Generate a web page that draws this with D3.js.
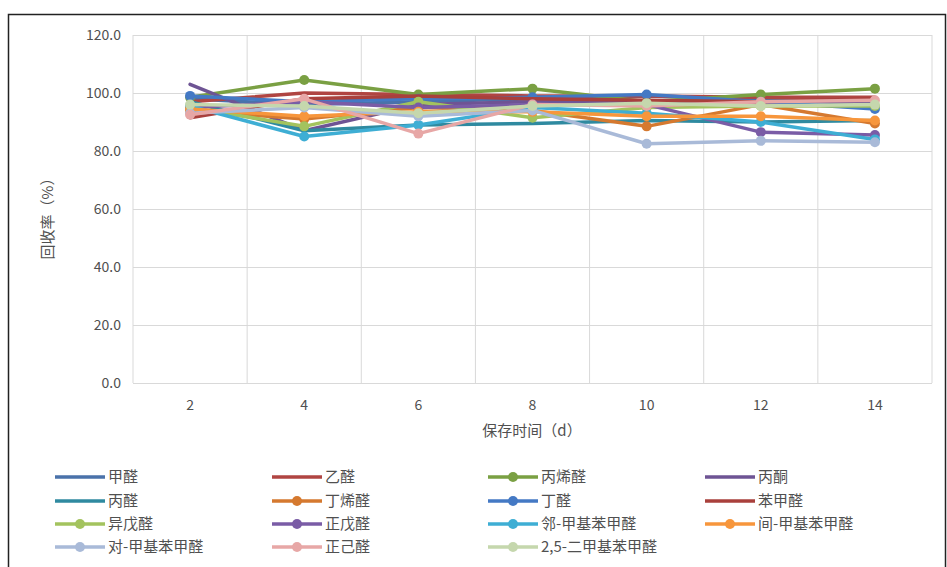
<!DOCTYPE html>
<html>
<head>
<meta charset="utf-8">
<script src="https://cdn.jsdelivr.net/npm/d3@7"></script>
<style>
  body { margin: 0; background: #fff; }
  .text { font-family: "Noto Sans CJK SC", "Noto Sans", sans-serif; fill: #505050; }
</style>
</head>
<body>
<div class="chart"></div>
<script>
// storage days
var days = [2, 4, 6, 8, 10, 12, 14];
var yTicks = [0, 20, 40, 60, 80, 100, 120];

var names = ['甲醛', '乙醛', '丙烯醛', '丙酮', '丙醛', '丁烯醛', '丁醛', '苯甲醛',
    '异戊醛', '正戊醛', '邻-甲基苯甲醛', '间-甲基苯甲醛', '对-甲基苯甲醛', '正己醛', '2,5-二甲基苯甲醛'];
var colors = ['#4a72aa', '#b04542', '#7aa043', '#6e5494', '#2f8aa0', '#d5792f', '#4479c4', '#a9403c',
    '#a3c35e', '#7a5ca6', '#3eaed4', '#f7963c', '#a9bad8', '#e7a7a6', '#c5d7ad'];
var markers = [false, false, true, false, false, true, true, false,
    true, true, true, true, true, true, true];

// recovery (%)
var v_jiaquan = [98, 96, 97, 98, 99, 98, 96];
var v_yiquan = [97, 100, 99.5, 99, 99, 98.5, 98.5];
var v_bingxiquan = [98.5, 104.5, 99.5, 101.5, 97, 99.5, 101.5];
var v_bingtong = [103, 87, 96, 97, 97, 97, 97];
var v_bingquan = [97, 87, 89, 89.5, 90.5, 90, 90.5];
var v_dingxiquan = [94, 91, 95, 94, 88.5, 96, 89.5];
var v_dingquan = [99, 97, 98, 98.5, 99.5, 97, 94.5];
var v_benjiaquan = [91.5, 98, 99, 98, 97.5, 97, 98];
var v_yiwuquan = [95, 88.5, 97, 91.5, 95, 95.5, 95.5];
var v_zhengwuquan = [95, 97, 95, 96, 96, 86.5, 85.5];
var v_lin = [95.5, 85, 89, 95, 93, 90, 84];
var v_jian = [94.5, 92, 93.5, 93.5, 92, 92, 90.5];
var v_dui = [93, 95, 92, 94, 82.5, 83.5, 83];
var v_zhengjiquan = [92.5, 98, 86, 96, 95.5, 97, 97.5];
var v_erjia = [96, 95.5, 93, 95.5, 96.5, 95.5, 96];

var values = [v_jiaquan, v_yiquan, v_bingxiquan, v_bingtong, v_bingquan, v_dingxiquan, v_dingquan,
    v_benjiaquan, v_yiwuquan, v_zhengwuquan, v_lin, v_jian, v_dui, v_zhengjiquan, v_erjia];

var width = 947, height = 567;
var plotL = 133, plotR = 932, plotT = 35, plotB = 383;

var svg = d3.select(".chart")
    .append("svg")
    .attr("width", width)
    .attr("height", height);

// frame
svg.append("rect")
    .attr("x", 8.5).attr("y", 14.5)
    .attr("width", 937).attr("height", 570)
    .attr("fill", "none")
    .attr("stroke", "#222")
    .attr("stroke-width", 1.5);

var x = d3.scaleBand()
    .domain(days)
    .range([plotL, plotR]);

var y = d3.scaleLinear()
    .domain([0, 120])
    .range([plotB, plotT]);

// horizontal gridlines
svg.append("g")
    .attr("transform", "translate(" + plotL + ",0)")
    .call(d3.axisLeft(y).tickValues(yTicks).tickSize(-(plotR - plotL)).tickFormat(""))
    .call(g => g.select(".domain").remove())
    .selectAll("line").attr("stroke", "#d9d9d9");

// vertical gridlines at category boundaries
var edges = days.map(d => x(d)).concat([x.range()[1]]);
svg.append("g")
    .selectAll("line")
    .data(edges)
    .enter()
    .append("line")
    .attr("x1", d => d).attr("x2", d => d)
    .attr("y1", plotT).attr("y2", plotB)
    .attr("stroke", "#d9d9d9");

// y tick labels
svg.append("g")
    .selectAll("text")
    .data(yTicks)
    .enter()
    .append("text")
    .attr("class", "text")
    .attr("x", 121)
    .attr("y", d => y(d) + 5)
    .attr("text-anchor", "end")
    .style("font-size", "14px")
    .text(d => d.toFixed(1));

// x tick labels
svg.append("g")
    .selectAll("text")
    .data(days)
    .enter()
    .append("text")
    .attr("class", "text")
    .attr("x", d => x(d) + x.bandwidth() / 2)
    .attr("y", 410)
    .attr("text-anchor", "middle")
    .style("font-size", "14px")
    .text(d => d);

// axis titles
svg.append("text")
    .attr("class", "text")
    .attr("x", 532).attr("y", 436)
    .attr("text-anchor", "middle")
    .style("font-size", "15px")
    .text("保存时间（d）");

svg.append("text")
    .attr("class", "text")
    .attr("transform", "translate(53,215) rotate(-90)")
    .attr("text-anchor", "middle")
    .style("font-size", "15px")
    .text("回收率（%）");

// lines
var line = d3.line()
    .x((d, i) => x(days[i]) + x.bandwidth() / 2)
    .y(d => y(d));

names.forEach(function(name, k) {
    svg.append("path")
        .datum(values[k])
        .attr("d", line)
        .attr("fill", "none")
        .attr("stroke", colors[k])
        .attr("stroke-width", 3.5)
        .attr("stroke-linejoin", "round")
        .attr("stroke-linecap", "round");
    if (markers[k]) {
        svg.append("g")
            .selectAll("circle")
            .data(values[k])
            .enter()
            .append("circle")
            .attr("cx", (d, i) => x(days[i]) + x.bandwidth() / 2)
            .attr("cy", d => y(d))
            .attr("r", 5)
            .attr("fill", colors[k]);
    }
});

// legend, 4 columns
var colX = [55, 272, 488, 705];
var rowY = [477, 501, 524, 547];
var leg = svg.append("g");
names.forEach(function(name, k) {
    var cx = colX[k % 4], cy = rowY[Math.floor(k / 4)];
    leg.append("line")
        .attr("x1", cx).attr("x2", cx + 50)
        .attr("y1", cy).attr("y2", cy)
        .attr("stroke", colors[k])
        .attr("stroke-width", 3.5);
    if (markers[k]) {
        leg.append("circle")
            .attr("cx", cx + 25).attr("cy", cy)
            .attr("r", 5)
            .attr("fill", colors[k]);
    }
    leg.append("text")
        .attr("class", "text")
        .attr("x", cx + 53)
        .attr("y", cy + 5)
        .style("font-size", "15px")
        .text(name);
});
</script>
</body>
</html>
